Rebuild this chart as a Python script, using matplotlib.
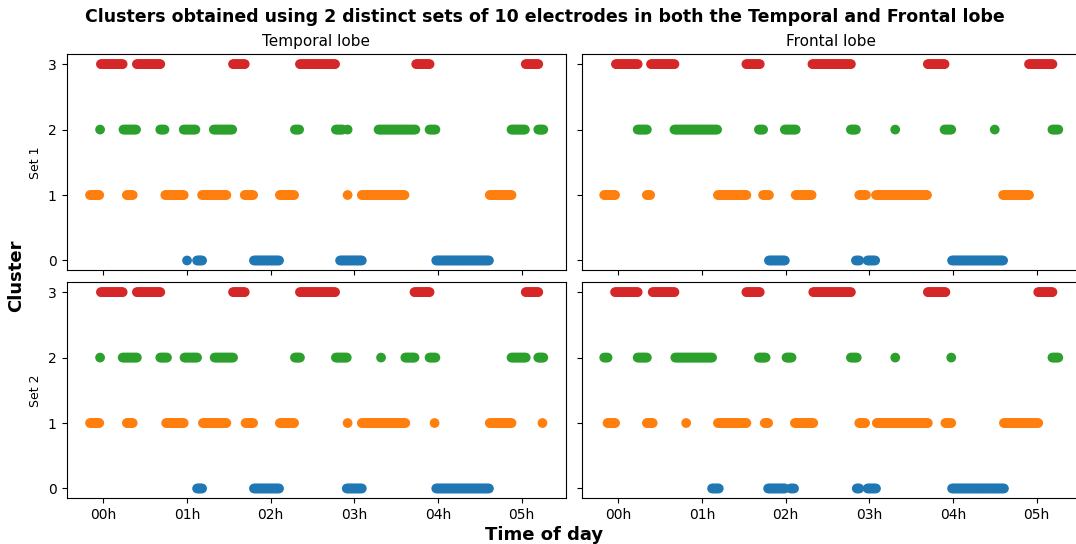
import numpy as np
import matplotlib.pyplot as plt

EPOCH = 1 / 60  # 1-minute epochs, expressed in hours

cluster_colors = ["tab:blue", "tab:orange", "tab:green", "tab:red"]
hour_ticks = [0, 1, 2, 3, 4, 5]
hour_labels = ["00h", "01h", "02h", "03h", "04h", "05h"]
lobe_names = ["Temporal lobe", "Frontal lobe"]
set_names = ["Set 1", "Set 2"]

# runs of consecutive epochs sharing a cluster: (cluster, first epoch, last epoch) in hours
temporal_set1 = [
    (3, -0.03, 0.23), (3, 0.40, 0.68), (3, 1.55, 1.69), (3, 2.35, 2.77), (3, 3.74, 3.90), (3, 5.05, 5.20),
    (2, -0.04, -0.04), (2, 0.24, 0.39), (2, 0.68, 0.73), (2, 0.96, 1.10), (2, 1.32, 1.54), (2, 2.29, 2.34),
    (2, 2.78, 2.86), (2, 2.92, 2.92), (2, 3.29, 3.73), (2, 3.90, 3.97), (2, 4.88, 5.04), (2, 5.20, 5.26),
    (1, -0.16, -0.05), (1, 0.28, 0.35), (1, 0.74, 0.96), (1, 1.18, 1.47), (1, 1.69, 1.79), (1, 2.11, 2.28),
    (1, 2.92, 2.92), (1, 3.09, 3.60), (1, 4.62, 4.88),
    (0, 1.00, 1.00), (0, 1.12, 1.18), (0, 1.80, 2.10), (0, 2.83, 3.09), (0, 3.98, 4.61),
]
frontal_set1 = [
    (3, -0.03, 0.23), (3, 0.39, 0.67), (3, 1.53, 1.69), (3, 2.32, 2.78), (3, 3.70, 3.90), (3, 4.91, 5.19),
    (2, 0.23, 0.34), (2, 0.67, 1.18), (2, 1.68, 1.73), (2, 1.99, 2.12), (2, 2.78, 2.84), (2, 3.31, 3.31),
    (2, 3.90, 3.98), (2, 4.50, 4.50), (2, 5.19, 5.26),
    (1, -0.17, -0.04), (1, 0.34, 0.38), (1, 1.19, 1.53), (1, 1.73, 1.80), (1, 2.12, 2.31), (1, 2.88, 2.96),
    (1, 3.08, 3.69), (1, 4.60, 4.91),
    (0, 1.80, 1.99), (0, 2.84, 2.88), (0, 2.98, 3.07), (0, 3.99, 4.60),
]
temporal_set2 = [
    (3, -0.03, 0.23), (3, 0.40, 0.68), (3, 1.55, 1.69), (3, 2.35, 2.77), (3, 3.72, 3.90), (3, 5.05, 5.20),
    (2, -0.04, -0.04), (2, 0.23, 0.40), (2, 0.68, 0.76), (2, 0.97, 1.12), (2, 1.33, 1.55), (2, 2.29, 2.35),
    (2, 2.78, 2.91), (2, 3.32, 3.32), (2, 3.61, 3.72), (2, 3.90, 3.97), (2, 4.88, 5.05), (2, 5.20, 5.26),
    (1, -0.16, -0.05), (1, 0.28, 0.35), (1, 0.75, 0.96), (1, 1.19, 1.47), (1, 1.70, 1.79), (1, 2.11, 2.28),
    (1, 2.92, 2.92), (1, 3.09, 3.61), (1, 3.96, 3.96), (1, 4.62, 4.88), (1, 5.25, 5.25),
    (0, 1.12, 1.18), (0, 1.80, 2.10), (0, 2.91, 3.09), (0, 3.98, 4.61),
]
frontal_set2 = [
    (3, -0.04, 0.23), (3, 0.41, 0.67), (3, 1.53, 1.69), (3, 2.33, 2.78), (3, 3.70, 3.91), (3, 5.02, 5.19),
    (2, -0.17, -0.13), (2, 0.23, 0.34), (2, 0.68, 1.12), (2, 1.68, 1.76), (2, 2.01, 2.07), (2, 2.78, 2.85),
    (2, 3.31, 3.31), (2, 3.98, 3.98), (2, 5.19, 5.26),
    (1, -0.13, -0.04), (1, 0.34, 0.41), (1, 0.81, 0.81), (1, 1.19, 1.53), (1, 1.75, 1.79), (1, 2.11, 2.33),
    (1, 2.88, 2.95), (1, 3.09, 3.70), (1, 3.91, 3.98), (1, 4.61, 5.02),
    (0, 1.12, 1.20), (0, 1.79, 1.99), (0, 2.06, 2.10), (0, 2.85, 2.88), (0, 2.98, 3.08), (0, 3.99, 4.61),
]

panels = [[temporal_set1, frontal_set1], [temporal_set2, frontal_set2]]


def expand(runs):
    # turn runs into one point per epoch
    times, labels = [], []
    for k, start, end in runs:
        n = int(round((end - start) / EPOCH)) + 1
        times.extend(np.linspace(start, end, n))
        labels.extend([k] * n)
    return np.array(times), np.array(labels)


fig = plt.figure(figsize=(10.76, 5.44), dpi=100)
W, H = 1076, 544
lefts = [66.5, 581.5]
tops = [54.3, 282.3]
width, height = 499.5, 216

axes = [[None, None], [None, None]]
for r in range(2):
    for c in range(2):
        rect = [lefts[c] / W, 1 - (tops[r] + height) / H, width / W, height / H]
        kw = {}
        if r or c:
            kw = dict(sharex=axes[0][0], sharey=axes[0][0])
        ax = fig.add_axes(rect, **kw)
        axes[r][c] = ax
        t, k = expand(panels[r][c])
        ax.scatter(t, k, c=[cluster_colors[i] for i in k], s=36, zorder=2)
        ax.set_yticks([0, 1, 2, 3])
        ax.set_xticks(hour_ticks)
        ax.set_xticklabels(hour_labels)
        ax.tick_params(labelsize=10)
        if r == 0:
            ax.set_title(lobe_names[c], fontsize=11)
            ax.tick_params(labelbottom=False)
        if c == 0:
            ax.set_ylabel(set_names[r], fontsize=9)
        else:
            ax.tick_params(labelleft=False)

fig.suptitle("Clusters obtained using 2 distinct sets of 10 electrodes in both the Temporal and Frontal lobe",
             fontsize=12.5, fontweight="bold", x=0.506, y=0.985)
fig.text(0.015, 0.493, "Cluster", rotation=90, fontsize=13, fontweight="bold", ha="center", va="center")
fig.text(0.506, 0.017, "Time of day", fontsize=13, fontweight="bold", ha="center", va="center")

fig.savefig("out.png", dpi=100)
